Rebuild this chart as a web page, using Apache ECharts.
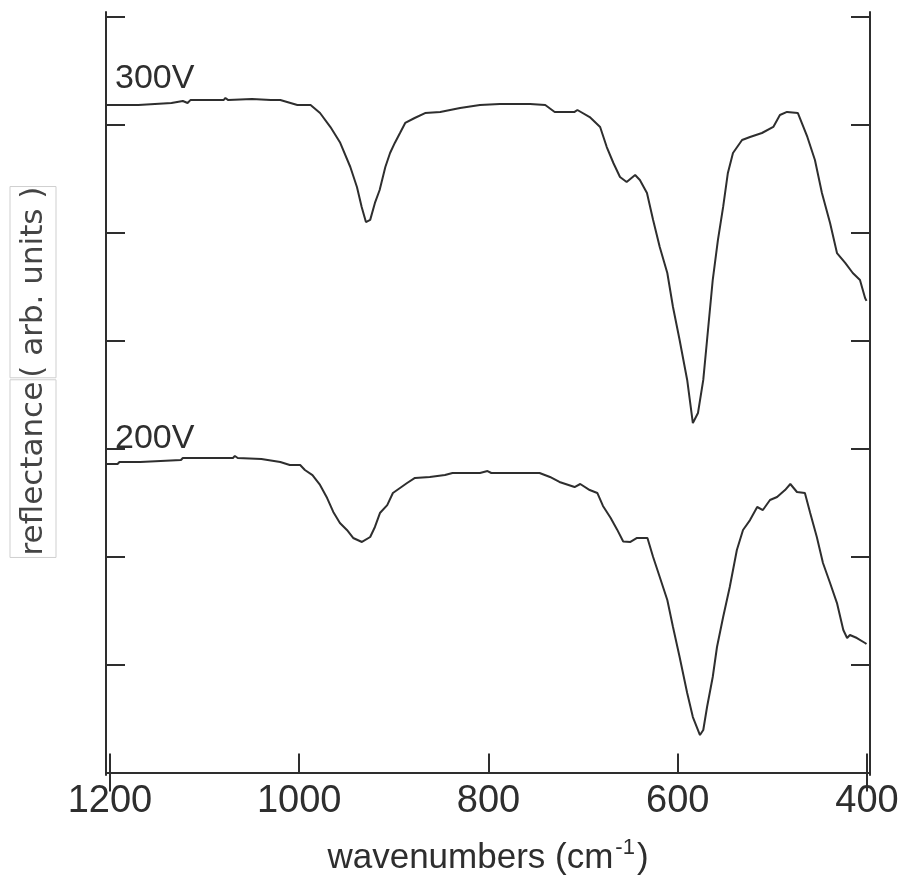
<!DOCTYPE html>
<html><head><meta charset="utf-8">
<script src="https://cdn.jsdelivr.net/npm/echarts@6/dist/echarts.min.js"></script>
<style>html,body{margin:0;padding:0;background:#fff}#c{width:908px;height:894px}</style>
</head><body><div id="c"></div>
<script>
// Data (wavenumber in cm^-1, reflectance in arbitrary units)
const wn300 = [1204,1170,1168,1135,1133,1123,1118,1115,1080,1078,1075,1050,1030,1020,1002,988,978,967,957,946,939,934,929.5,925,920,915,909,904,899,893.5,888,878,867,851,830,809,788,756,740,730,709,706,693,682,675,668,661,654,645,640,632.5,626,619,611,605,598,590,584,582,578.6,573,569,563,557.5,552,547,541.6,532,523.6,511,499,492,484.5,473,463,455,447.6,439,431.7,423,415,407.4,402,400.5];
const r300 = [6.185,6.185,6.203,6.203,6.221,6.221,6.203,6.23,6.23,6.249,6.23,6.24,6.23,6.23,6.185,6.185,6.11,5.98,5.84,5.61,5.425,5.24,5.10,5.12,5.277,5.397,5.61,5.74,5.833,5.925,6.018,6.064,6.11,6.12,6.157,6.185,6.194,6.194,6.185,6.12,6.12,6.138,6.073,5.981,5.795,5.647,5.517,5.471,5.536,5.49,5.369,5.119,4.869,4.628,4.313,4.007,3.637,3.238,3.22,3.331,3.637,4.007,4.563,4.934,5.24,5.555,5.74,5.86,5.888,5.925,5.981,6.092,6.12,6.11,5.888,5.675,5.369,5.091,4.813,4.721,4.628,4.563,4.396,4.37];
const wn200 = [1204,1192,1190,1168,1166,1125,1123,1070,1068,1065,1040,1020,1010,999,994,986,978,970.5,964,957,949.6,943,933.7,925,920,914.7,907,901,893.5,886,877.7,862,846,838,809,801,797,775,746,735,725,709,703,693,685,679,671,664,657.6,650,643,632,626,619,611,605,598,590,584,576.5,573,569,563,558.5,552,545,537.5,531,523.6,516,510,502.5,495,486.6,481,474,465.6,460,453,446.5,439,431.7,425,421,418,410.6,402,400.5];
const r200 = [2.858,2.858,2.877,2.877,2.895,2.895,2.914,2.914,2.933,2.914,2.905,2.877,2.849,2.849,2.803,2.756,2.664,2.543,2.414,2.312,2.247,2.173,2.136,2.182,2.275,2.404,2.478,2.59,2.636,2.682,2.729,2.738,2.756,2.775,2.775,2.793,2.775,2.775,2.775,2.738,2.692,2.645,2.673,2.617,2.59,2.47,2.36,2.25,2.14,2.136,2.173,2.173,1.997,1.811,1.598,1.348,1.07,0.737,0.514,0.347,0.394,0.607,0.885,1.163,1.441,1.719,2.062,2.247,2.339,2.46,2.432,2.525,2.553,2.617,2.673,2.599,2.59,2.404,2.182,1.941,1.756,1.57,1.32,1.246,1.274,1.246,1.2,1.19];
const xTicks = [1200, 1000, 800, 600, 400];
const xTopTicks = [1200, 400];
const yTicks = [0, 1, 2, 3, 4, 5, 6, 7];
const seriesNames = ['300V', '200V'];

const ink = '#2e2e2e';
const chart = echarts.init(document.getElementById('c'), null, {renderer: 'canvas'});
const pairs = (xs, ys) => xs.map((x, i) => [x, ys[i]]);
const axisLine = {show: true, lineStyle: {color: ink, width: 2}};
const tick = (vals) => ({show: true, inside: true, length: 19, customValues: vals, lineStyle: {color: ink, width: 2}});

chart.setOption({
  animation: false,
  backgroundColor: '#fff',
  grid: {left: 106, right: 38, top: 12, bottom: 119, containLabel: false},
  xAxis: [{
    type: 'value', inverse: true, min: 396.8, max: 1204.2, position: 'bottom',
    axisLine: axisLine, axisTick: tick(xTicks), splitLine: {show: false},
    axisLabel: {customValues: xTicks, formatter: (v) => String(v), color: ink, fontFamily: 'Liberation Sans', fontSize: 38, margin: 8},
    name: 'wavenumbers (cm{sup|-1})', nameLocation: 'middle', nameGap: 62,
    nameTextStyle: {color: ink, fontFamily: 'Liberation Sans', fontSize: 35,
      rich: {sup: {fontFamily: 'Liberation Sans', fontSize: 22, color: ink, padding: [0, 2, 20, 2]}}}
  }, {
    type: 'value', inverse: true, min: 396.8, max: 1204.2, position: 'top',
    axisLine: axisLine, axisTick: tick(xTopTicks), axisLabel: {show: false}, splitLine: {show: false}
  }],
  yAxis: [{
    type: 'value', min: -0.023, max: 7.046, position: 'left',
    axisLine: axisLine, axisTick: tick(yTicks), axisLabel: {show: false}, splitLine: {show: false}
  }, {
    type: 'value', min: -0.023, max: 7.046, position: 'right',
    axisLine: axisLine, axisTick: tick(yTicks), axisLabel: {show: false}, splitLine: {show: false}
  }],
  graphic: [{
    type: 'text', x: 33, y: 372, rotation: Math.PI / 2,
    style: {
      text: '{a|reflectance}{g|}{b|( arb. units )}',
      align: 'center', verticalAlign: 'middle',
      rich: {
        a: {fontFamily: 'DejaVu Sans', fontSize: 31, fill: '#444', borderColor: '#cfcfcf', borderWidth: 1, padding: [8, 2, 7, 2]},
        g: {width: 2},
        b: {fontFamily: 'DejaVu Sans', fontSize: 31, fill: '#444', borderColor: '#cfcfcf', borderWidth: 1, padding: [8, 0, 7, 0]}
      }
    }
  }, {
    type: 'text', left: 115, top: 62,
    style: {text: seriesNames[0], fontFamily: 'Liberation Sans', fontSize: 34, fill: ink}
  }, {
    type: 'text', left: 115, top: 422,
    style: {text: seriesNames[1], fontFamily: 'Liberation Sans', fontSize: 34, fill: ink}
  }],
  series: [{
    name: seriesNames[0], type: 'line', showSymbol: false, data: pairs(wn300, r300),
    lineStyle: {color: ink, width: 2}, clip: true
  }, {
    name: seriesNames[1], type: 'line', showSymbol: false, data: pairs(wn200, r200),
    lineStyle: {color: ink, width: 2}, clip: true
  }]
});
</script>
</body></html>
